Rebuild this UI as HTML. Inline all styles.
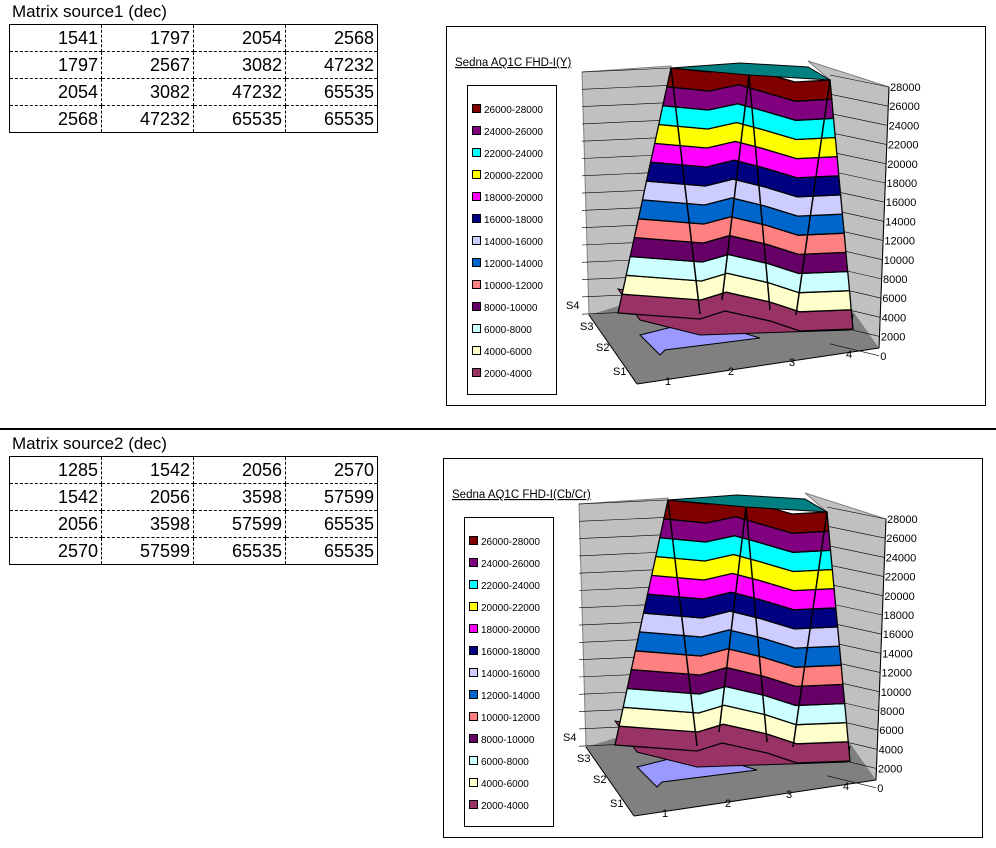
<!DOCTYPE html>
<html><head><meta charset="utf-8"><style>
body{margin:0;background:#fff;width:996px;height:848px;overflow:hidden;font-family:"Liberation Sans","Noto Sans CJK JP",sans-serif}
.t{position:absolute;font-size:17px;color:#000}
table{position:absolute;border-collapse:collapse;border:1px solid #000}
td{width:92px;height:26px;padding:0 3px 0 0;text-align:right;font-size:18px;border-right:1px dashed #000;border-bottom:1px dashed #000;line-height:26px;box-sizing:border-box}
td:last-child{border-right:none}
tr:last-child td{border-bottom:none}
</style></head><body>
<div class="t" style="left:12px;top:2px">Matrix source1 (dec)</div>
<table style="left:9px;top:24px">
<tr><td>1541</td><td>1797</td><td>2054</td><td>2568</td></tr>
<tr><td>1797</td><td>2567</td><td>3082</td><td>47232</td></tr>
<tr><td>2054</td><td>3082</td><td>47232</td><td>65535</td></tr>
<tr><td>2568</td><td>47232</td><td>65535</td><td>65535</td></tr>
</table>
<div style="position:absolute;left:0;top:428px;width:996px;height:2px;background:#000"></div>
<div class="t" style="left:12px;top:434px">Matrix source2 (dec)</div>
<table style="left:9px;top:456px">
<tr><td>1285</td><td>1542</td><td>2056</td><td>2570</td></tr>
<tr><td>1542</td><td>2056</td><td>3598</td><td>57599</td></tr>
<tr><td>2056</td><td>3598</td><td>57599</td><td>65535</td></tr>
<tr><td>2570</td><td>57599</td><td>65535</td><td>65535</td></tr>
</table>
<svg id="s" width="996" height="848" style="position:absolute;left:0;top:0" xmlns="http://www.w3.org/2000/svg" font-family="Liberation Sans, sans-serif"></svg>
<script>
var cols=["#993366","#ffffcc","#ccffff","#660066","#ff8080","#0066cc","#ccccff","#000080","#ff00ff","#ffff00","#00ffff","#800080","#800000"];
var names=["2000-4000","4000-6000","6000-8000","8000-10000","10000-12000","12000-14000","14000-16000","16000-18000","18000-20000","20000-22000","22000-24000","24000-26000","26000-28000"];
function chart(dx,dy,title){
 var h='<g transform="translate('+dx+','+dy+')">';
 h+='<rect x="446.5" y="26.5" width="539" height="379" fill="#fff" stroke="#000"/>';
 h+='<polygon points="582,72 671,66 671,300 589,315" fill="#c0c0c0" stroke="#808080"/>';
 h+='<polygon points="808,61 889,87 879,348 845,330 830,80" fill="#c0c0c0" stroke="#808080"/>';
 h+='<polygon points="589,315 637,384 879,348 845,300 671,290" fill="#808080"/>';
 h+='<line x1="589" y1="315" x2="637" y2="384" stroke="#000"/><line x1="637" y1="384" x2="879" y2="348" stroke="#000"/><line x1="889" y1="87" x2="879" y2="348" stroke="#000"/>';
 for(var i=0;i<=14;i++){var yl=72+i*17.3,yr=87+i*19.2;h+='<line x1="582" y1="'+yl+'" x2="671" y2="'+(yl-4)+'" stroke="#000" stroke-width=".6"/>';
  h+='<line x1="830" y1="'+(yr-12)+'" x2="'+(889-i*0.7)+'" y2="'+yr+'" stroke="#000" stroke-width=".6"/>';
  h+='<text x="'+(890-i*0.7)+'" y="'+(yr+4)+'" font-size="11">'+(28000-i*2000)+'</text>';}
 h+='<polygon points="640,335 660,355 665,350 760,338 700,320" fill="#9999ff" stroke="#000"/>';
 h+='<polygon points="618,289 640,320 700,335 850,330 853,315 770,300 690,300" fill="#993366" stroke="#000"/>';
 for(var b=0;b<13;b++){
  function pt(l){var t=l/13;var yL=313-t*245,yR=329-t*249;var xL=618+t*53,xR=853-t*23;
   return [[xL,yL],[700+t*10,yL+6-t*2],[725+t*15,yL-2],[770-t*10,yR-8],[800-t*5,yR+2],[xR,yR]];}
  var a=pt(b),c=pt(b+1);var p=a.concat(c.reverse());
  h+='<polygon points="'+p.map(function(q){return q[0].toFixed(1)+','+q[1].toFixed(1)}).join(' ')+'" fill="'+cols[b]+'" stroke="#000" stroke-width="1.3"/>';}
 h+='<polygon points="671,68 749,75 830,80 808,67 740,63" fill="#008080" stroke="#000"/>';
 h+='<polyline points="671,68 700,314" fill="none" stroke="#000" stroke-width="1.5"/><polyline points="749,75 722,300" fill="none" stroke="#000" stroke-width="1.5"/><polyline points="749,75 770,310" fill="none" stroke="#000" stroke-width="1.5"/><polyline points="830,80 796,315" fill="none" stroke="#000" stroke-width="1.5"/>';
 h+='<text x="455" y="66" font-size="11.5" text-decoration="underline">'+title+'</text>';
 h+='<rect x="467.5" y="85.5" width="89" height="309" fill="#fff" stroke="#000"/>';
 for(var k=0;k<13;k++){var y=110+k*22;h+='<rect x="472.5" y="'+(y-5.5)+'" width="8" height="8" fill="'+cols[12-k]+'" stroke="#000"/><text x="484" y="'+(y+3)+'" font-size="10">'+names[12-k]+'</text>';}
 var sl=[["S4",566,309],["S3",580,330],["S2",596,351],["S1",613,375]];sl.forEach(function(s){h+='<text x="'+s[1]+'" y="'+s[2]+'" font-size="11">'+s[0]+'</text>'});
 [["1",665,385],["2",728,375],["3",789,366],["4",846,358]].forEach(function(s){h+='<text x="'+s[1]+'" y="'+s[2]+'" font-size="11">'+s[0]+'</text>'});
 return h+'</g>';}
document.getElementById('s').innerHTML=chart(0,0,'Sedna AQ1C FHD-I(Y)')+chart(-3,432,'Sedna AQ1C FHD-I(Cb/Cr)');
</script>
</body></html>
